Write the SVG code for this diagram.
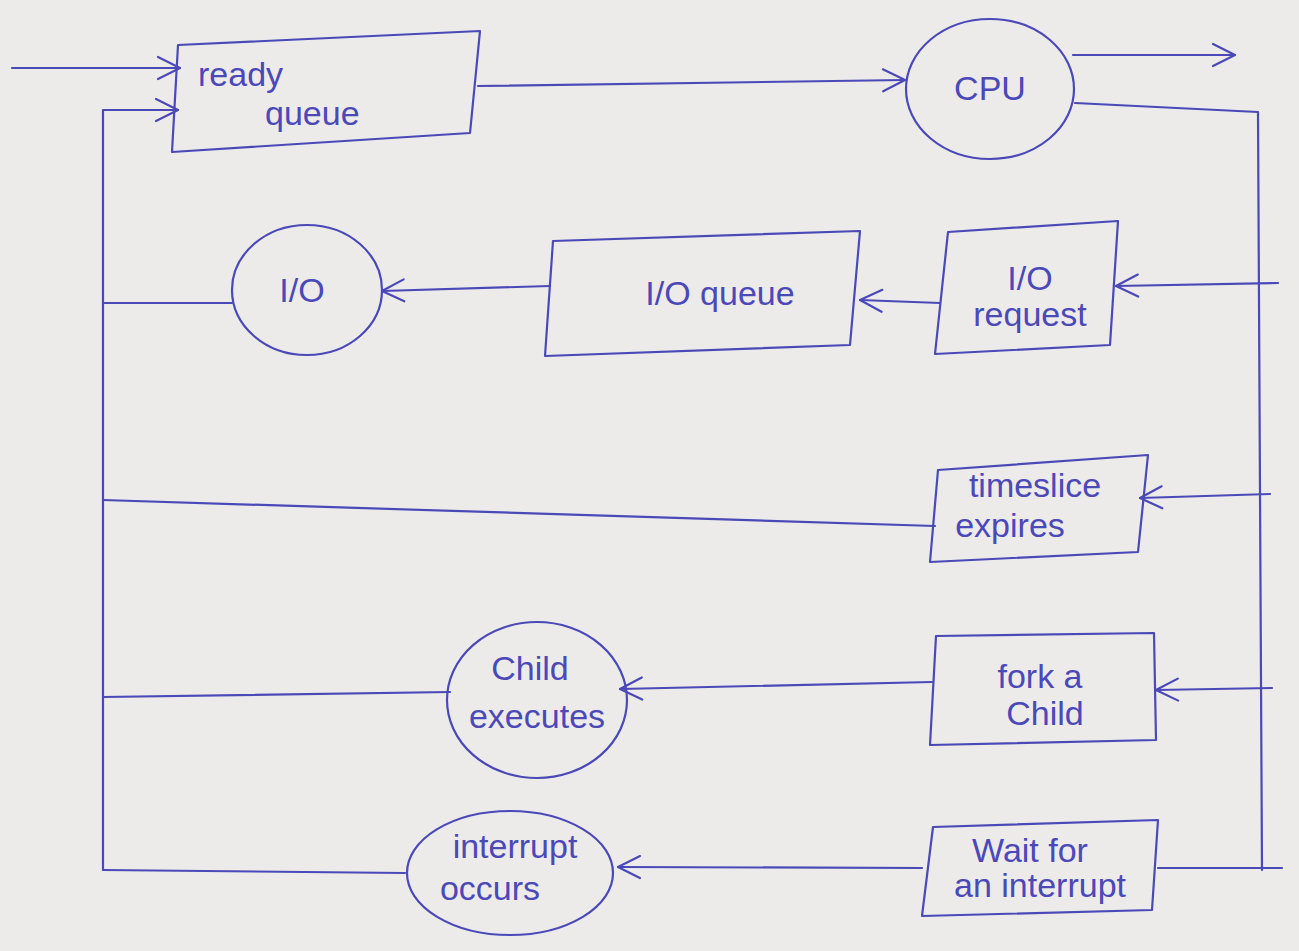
<svg xmlns="http://www.w3.org/2000/svg" width="1299" height="951" viewBox="0 0 1299 951">
<style>
.ink{fill:none;stroke:#4b48b8;stroke-width:2.2;stroke-linecap:round;stroke-linejoin:round}
.t{font-family:"Liberation Sans","DejaVu Sans",sans-serif;fill:#4b48b8;font-size:34px}
</style>
<defs>
<marker id="a" markerWidth="30" markerHeight="30" refX="26" refY="15" orient="auto" markerUnits="userSpaceOnUse">
<polyline points="4,4 26,15 4,26" fill="none" stroke="#4b48b8" stroke-width="2.2" stroke-linecap="round" stroke-linejoin="round"/>
</marker>
</defs>
<rect width="1299" height="951" fill="#ecebe9"/>
<g id="connectors">
<line class="ink" x1="12" y1="68" x2="180" y2="68" marker-end="url(#a)"/>
<polyline class="ink" points="103,870 103,110 178,110" marker-end="url(#a)"/>
<line class="ink" x1="478" y1="86" x2="905" y2="80" marker-end="url(#a)"/>
<line class="ink" x1="1073" y1="55" x2="1235" y2="55" marker-end="url(#a)"/>
<polyline class="ink" points="1075,103 1258,112 1262,870"/>
<line class="ink" x1="1278" y1="283" x2="1116" y2="286" marker-end="url(#a)"/>
<line class="ink" x1="940" y1="303" x2="860" y2="300" marker-end="url(#a)"/>
<line class="ink" x1="550" y1="286" x2="382" y2="291" marker-end="url(#a)"/>
<line class="ink" x1="232" y1="303" x2="103" y2="303"/>
<line class="ink" x1="1270" y1="494" x2="1140" y2="498" marker-end="url(#a)"/>
<line class="ink" x1="935" y1="526" x2="103" y2="500"/>
<line class="ink" x1="1272" y1="688" x2="1156" y2="690" marker-end="url(#a)"/>
<line class="ink" x1="932" y1="682" x2="620" y2="689" marker-end="url(#a)"/>
<line class="ink" x1="450" y1="692" x2="103" y2="697"/>
<line class="ink" x1="1282" y1="868" x2="1158" y2="868"/>
<line class="ink" x1="922" y1="868" x2="618" y2="867" marker-end="url(#a)"/>
<line class="ink" x1="405" y1="873" x2="103" y2="870"/>
</g>
<g id="ready-queue">
<polygon class="ink" points="178,45 480,31 470,133 172,152"/>
<text class="t" x="198" y="86">ready</text>
<text class="t" x="265" y="125">queue</text>
</g>
<g id="cpu">
<ellipse class="ink" cx="990" cy="89" rx="84" ry="70"/>
<text class="t" x="990" y="100" text-anchor="middle">CPU</text>
</g>
<g id="io-request">
<polygon class="ink" points="948,232 1118,221 1110,345 935,354"/>
<text class="t" x="1030" y="290" text-anchor="middle">I/O</text>
<text class="t" x="1030" y="326" text-anchor="middle">request</text>
</g>
<g id="io-queue">
<polygon class="ink" points="553,241 860,231 850,345 545,356"/>
<text class="t" x="720" y="305" text-anchor="middle">I/O queue</text>
</g>
<g id="io">
<ellipse class="ink" cx="307" cy="290" rx="75" ry="65"/>
<text class="t" x="302" y="302" text-anchor="middle">I/O</text>
</g>
<g id="timeslice">
<polygon class="ink" points="938,470 1148,455 1138,552 930,562"/>
<text class="t" x="1035" y="497" text-anchor="middle">timeslice</text>
<text class="t" x="1010" y="537" text-anchor="middle">expires</text>
</g>
<g id="fork">
<polygon class="ink" points="936,636 1154,633 1156,740 930,745"/>
<text class="t" x="1040" y="688" text-anchor="middle">fork a</text>
<text class="t" x="1045" y="725" text-anchor="middle">Child</text>
</g>
<g id="child-executes">
<ellipse class="ink" cx="537" cy="700" rx="90" ry="78"/>
<text class="t" x="530" y="680" text-anchor="middle">Child</text>
<text class="t" x="537" y="728" text-anchor="middle">executes</text>
</g>
<g id="wait">
<polygon class="ink" points="933,827 1158,820 1152,910 922,916"/>
<text class="t" x="1030" y="862" text-anchor="middle">Wait for</text>
<text class="t" x="1040" y="897" text-anchor="middle">an interrupt</text>
</g>
<g id="interrupt">
<ellipse class="ink" cx="510" cy="873" rx="103" ry="62"/>
<text class="t" x="515" y="858" text-anchor="middle">interrupt</text>
<text class="t" x="490" y="900" text-anchor="middle">occurs</text>
</g>
</svg>
